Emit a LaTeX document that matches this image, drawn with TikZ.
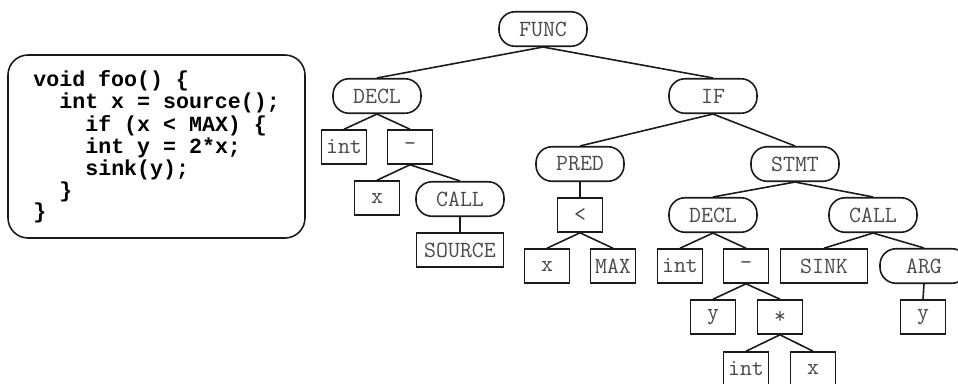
\documentclass[tikz,border=0pt]{standalone}
\usepackage{fontspec}
\usepackage{tikz}
\usetikzlibrary{positioning}
\newfontfamily\codefont{Liberation Mono}
\definecolor{treeink}{HTML}{4A4A4A}
\definecolor{lineink}{HTML}{1A1A1A}
\tikzset{
  roundnode/.style={
    rounded corners=0.32cm,
    draw=lineink,
    line width=0.9pt,
    minimum width=1.76cm,
    minimum height=0.69cm,
    inner sep=0pt,
    text=treeink,
    font=\ttfamily\fontsize{13.2}{15}\selectfont
  },
  boxnode/.style={
    draw=lineink,
    line width=0.9pt,
    minimum width=0.9cm,
    minimum height=0.68cm,
    inner sep=0pt,
    text=treeink,
    font=\ttfamily\fontsize{13.2}{15}\selectfont
  },
  widebox/.style={
    boxnode,
    minimum width=1.74cm
  },
  codeline/.style={
    anchor=base west,
    inner sep=0pt,
    font=\codefont\bfseries\fontsize{12.3}{14}\selectfont
  },
  edge/.style={
    line width=0.9pt,
    draw=lineink
  }
}
\begin{document}
\begin{tikzpicture}[x=0.02cm, y=-0.02cm]
\useasboundingbox (0,0) rectangle (958,383);
\clip (0,0) rectangle (958,383);
% source code
\draw[edge, rounded corners=0.4cm] (8,55) rectangle (305,238);
\node[codeline] (c1) at (33,86) {void foo() \{};
\node[codeline] (c2) at (59,108) {int x = source();};
\node[codeline] (c3) at (85,131) {if (x < MAX) \{};
\node[codeline] (c4) at (85,153) {int y = 2*x;};
\node[codeline] (c5) at (85,175) {sink(y);};
\node[codeline] (c6) at (59,197) {\}};
\node[codeline] (c7) at (33,218) {\}};
% syntax tree
\node[roundnode] (func) at (543,29) {FUNC};
\node[roundnode] (decl) at (377,96) {DECL};
\node[roundnode] (if) at (713,96) {IF};
\node[boxnode] (int) at (344,147) {int};
\node[boxnode] (assign) at (410,147) {-};
\node[boxnode] (x) at (377,198) {x};
\node[roundnode] (call) at (460,199) {CALL};
\node[widebox] (source) at (460,250) {SOURCE};
\node[roundnode] (pred) at (580,164) {PRED};
\node[boxnode] (less) at (580,215) {<};
\node[boxnode] (predx) at (547,266) {x};
\node[boxnode] (max) at (613,266) {MAX};
\node[roundnode] (stmt) at (795,164) {STMT};
\node[roundnode] (decltwo) at (713,215) {DECL};
\node[roundnode] (calltwo) at (873,215) {CALL};
\node[boxnode] (inttwo) at (680,266) {int};
\node[boxnode] (assigntwo) at (746,266) {-};
\node[widebox] (sink) at (824,266) {SINK};
\node[roundnode] (arg) at (924,266) {ARG};
\node[boxnode] (y) at (713,317) {y};
\node[boxnode] (times) at (780,317) {*};
\node[boxnode] (argy) at (923,317) {y};
\node[boxnode] (intthree) at (746,369) {int};
\node[boxnode] (xthree) at (813,369) {x};
\draw[edge] (func.south) -- (decl.north);
\draw[edge] (func.south) -- (if.north);
\draw[edge] (decl.south) -- (int.north);
\draw[edge] (decl.south) -- (assign.north);
\draw[edge] (assign.south) -- (x.north);
\draw[edge] (assign.south) -- (call.north);
\draw[edge] (call.south) -- (source.north);
\draw[edge] (if.south) -- (pred.north);
\draw[edge] (if.south) -- (stmt.north);
\draw[edge] (pred.south) -- (less.north);
\draw[edge] (less.south) -- (predx.north);
\draw[edge] (less.south) -- (max.north);
\draw[edge] (stmt.south) -- (decltwo.north);
\draw[edge] (stmt.south) -- (calltwo.north);
\draw[edge] (decltwo.south) -- (inttwo.north);
\draw[edge] (decltwo.south) -- (assigntwo.north);
\draw[edge] (assigntwo.south) -- (y.north);
\draw[edge] (assigntwo.south) -- (times.north);
\draw[edge] (times.south) -- (intthree.north);
\draw[edge] (times.south) -- (xthree.north);
\draw[edge] (calltwo.south) -- (sink.north);
\draw[edge] (calltwo.south) -- (arg.north);
\draw[edge] (arg.south) -- (argy.north);
\end{tikzpicture}
\end{document}
